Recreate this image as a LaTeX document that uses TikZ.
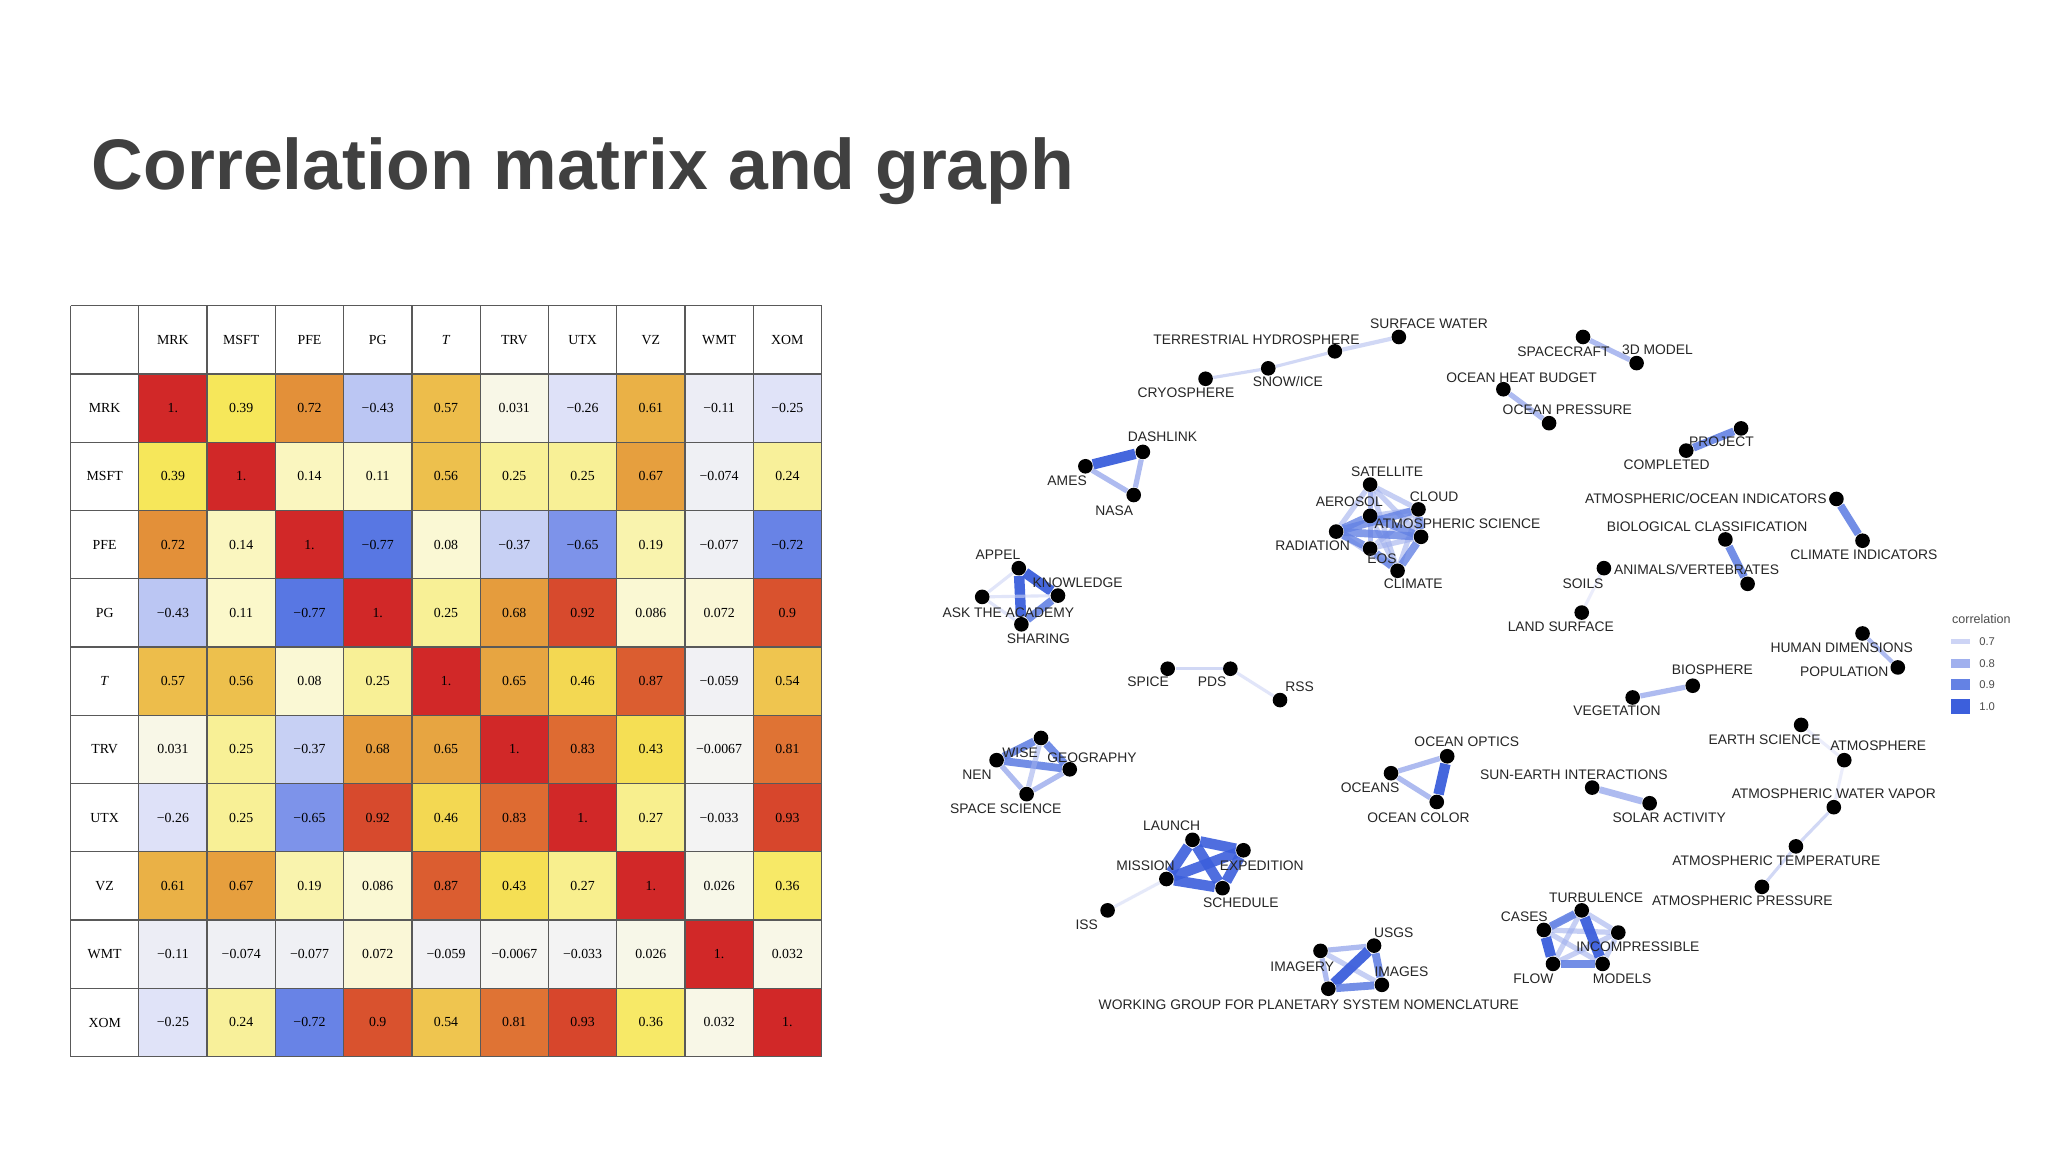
\documentclass[tikz,border=0pt]{standalone}
\usepackage{fontspec}
\setmainfont{Liberation Sans}
\newfontfamily\mserif{Liberation Serif}
\usetikzlibrary{backgrounds}
\definecolor{k10}{RGB}{209,40,40}
\definecolor{k9}{RGB}{217,82,46}
\definecolor{k8}{RGB}{224,118,52}
\definecolor{k7}{RGB}{228,150,58}
\definecolor{k55}{RGB}{238,195,78}
\definecolor{k4}{RGB}{246,230,85}
\definecolor{k25}{RGB}{248,240,150}
\definecolor{k1}{RGB}{251,248,205}
\definecolor{k0}{RGB}{246,246,242}
\definecolor{km25}{RGB}{224,227,248}
\definecolor{km45}{RGB}{183,195,242}
\definecolor{km65}{RGB}{125,147,234}
\definecolor{km8}{RGB}{80,112,226}
\definecolor{ec7}{RGB}{205,212,245}
\definecolor{ec8}{RGB}{160,176,238}
\definecolor{ec9}{RGB}{100,130,228}
\definecolor{ec10}{RGB}{60,95,220}
\definecolor{titlegray}{RGB}{64,64,64}
\newcommand\mixc[4]{\pgfmathtruncatemacro\pp{max(0,min(100,100*(\cv-(#1))/((#2)-(#1))))}\colorlet{cc}{#4!\pp!#3}}
\newcommand\mcol[1]{%
 \pgfmathsetmacro\cv{#1}%
 \ifdim\cv pt>0.9pt \mixc{0.9}{1.0}{k9}{k10}\else
 \ifdim\cv pt>0.8pt \mixc{0.8}{0.9}{k8}{k9}\else
 \ifdim\cv pt>0.7pt \mixc{0.7}{0.8}{k7}{k8}\else
 \ifdim\cv pt>0.55pt \mixc{0.55}{0.7}{k55}{k7}\else
 \ifdim\cv pt>0.4pt \mixc{0.4}{0.55}{k4}{k55}\else
 \ifdim\cv pt>0.25pt \mixc{0.25}{0.4}{k25}{k4}\else
 \ifdim\cv pt>0.1pt \mixc{0.1}{0.25}{k1}{k25}\else
 \ifdim\cv pt>0pt \mixc{0}{0.1}{k0}{k1}\else
 \ifdim\cv pt>-0.25pt \mixc{-0.25}{0}{km25}{k0}\else
 \ifdim\cv pt>-0.45pt \mixc{-0.45}{-0.25}{km45}{km25}\else
 \ifdim\cv pt>-0.65pt \mixc{-0.65}{-0.45}{km65}{km45}\else
 \mixc{-0.8}{-0.65}{km8}{km65}\fi\fi\fi\fi\fi\fi\fi\fi\fi\fi\fi}
\def\fmtx#1#2\relax{\if-#1−#2\else#1#2\fi}
\tikzset{
 mtext/.style={font=\mserif\fontsize{5.3}{6}\selectfont, inner sep=0pt},
 lbl/.style={font=\fontsize{5.3}{6}\selectfont, text=black!85, inner sep=0pt},
 dot/.style={circle, fill=black, minimum size=5.6pt, inner sep=0pt},
 e7/.style={draw=ec7, line width=1.2pt, opacity=0.9},
 e8/.style={draw=ec8, line width=2pt, opacity=0.85},
 e9/.style={draw=ec9, line width=3pt, opacity=0.9},
 e10/.style={draw=ec10, line width=4pt, opacity=0.95},
 legtext/.style={font=\fontsize{4.3}{5}\selectfont, text=black!70, inner sep=0pt},
}
\begin{document}
\begin{tikzpicture}[x=0.5pt,y=-0.5pt]
\begin{pgfonlayer}{background}
\fill[white] (0,0) rectangle (1568,882);
\end{pgfonlayer}
\useasboundingbox (0,0) rectangle (1568,882);
\node[anchor=base west, font=\bfseries\fontsize{27.4}{30}\selectfont, text=titlegray, inner sep=0pt] (title) at (70,145) {Correlation matrix and graph};
% matrix
\def\mx{54}\def\my{234}\def\cs{52.27}
\foreach \row [count=\i] in {
 {1,0.39,0.72,-0.43,0.57,0.031,-0.26,0.61,-0.11,-0.25},
 {0.39,1,0.14,0.11,0.56,0.25,0.25,0.67,-0.074,0.24},
 {0.72,0.14,1,-0.77,0.08,-0.37,-0.65,0.19,-0.077,-0.72},
 {-0.43,0.11,-0.77,1,0.25,0.68,0.92,0.086,0.072,0.9},
 {0.57,0.56,0.08,0.25,1,0.65,0.46,0.87,-0.059,0.54},
 {0.031,0.25,-0.37,0.68,0.65,1,0.83,0.43,-0.0067,0.81},
 {-0.26,0.25,-0.65,0.92,0.46,0.83,1,0.27,-0.033,0.93},
 {0.61,0.67,0.19,0.086,0.87,0.43,0.27,1,0.026,0.36},
 {-0.11,-0.074,-0.077,0.072,-0.059,-0.0067,-0.033,0.026,1,0.032},
 {-0.25,0.24,-0.72,0.9,0.54,0.81,0.93,0.36,0.032,1}}{
 \foreach \val [count=\j] in \row {
  \mcol{\val}
  \fill[cc] ({\mx+\cs*\j},{\my+\cs*\i}) rectangle ({\mx+\cs*(\j+1)},{\my+\cs*(\i+1)});
  \node[mtext] (c-\i-\j) at ({\mx+\cs*(\j+0.5)},{\my+\cs*(\i+0.5)}) {\ifnum\i=\j\relax 1.\else\expandafter\fmtx\val\relax\fi};
 }
}
\foreach \lab [count=\k] in {MRK,MSFT,PFE,PG,\textit{T},TRV,UTX,VZ,WMT,XOM}{
 \node[mtext] (h-\k) at ({\mx+\cs*(\k+0.5)},{\my+\cs*0.5}) {\lab};
 \node[mtext] (r-\k) at ({\mx+\cs*0.5},{\my+\cs*(\k+0.5)}) {\lab};
}
\foreach \k in {0,...,11}{
 \draw[black!65, line width=0.5pt] ({\mx+\cs*\k},\my) -- ({\mx+\cs*\k},{\my+\cs*11});
 \draw[black!65, line width=0.5pt] (\mx,{\my+\cs*\k}) -- ({\mx+\cs*11},{\my+\cs*\k});
}
% graph dots
\foreach \n/\x/\y in {
 cryo/923/290, snow/971/282, terr/1022/269, surf/1071/258,
 dash/875/346, ames/831/357, nasa/868/379,
 sat/1049/371, cloud/1086/390, aer/1049/395, atm/1088/411, rad/1023/407, eos/1049/420, clim/1070/437,
 appel/780/435, know/810/456, ask/752/457, shar/782/478,
 space/1212/258, tdm/1253/278, ohb/1151/298, opr/1186/324,
 proj/1333/328, comp/1291/345, aoi/1406/382, ci/1426/414,
 bio/1321/413, anim/1338/447, soils/1228/435, land/1211/469,
 hum/1426/485, pop/1453/511, biosph/1296/525, veg/1250/534,
 es/1379/555, atmos/1412/582, awv/1404/618, atemp/1375/648, apress/1349/679,
 sun/1219/603, solar/1263/615,
 turb/1211/697, cases/1182/712, incomp/1239/714, flow/1189/738, models/1227/738,
 spice/894/512, pds/942/512, rss/980/536,
 wise/797/565, nen/763/582, geo/819/589, ss/786/608,
 launch/913/643, exped/952/651, mission/893/673, sched/936/680, iss/848/697,
 optics/1108/579, oceans/1065/592, color/1100/614,
 usgs/1052/724, imagery/1011/728, images/1058/754, wg/1017/757}
 {\node[dot] (\n) at (\x,\y) {};}
% edges
\begin{pgfonlayer}{background}
\draw[e7] (cryo)--(snow); \draw[e7] (snow)--(terr); \draw[e7,line width=1.6pt] (terr)--(surf);
\draw[e10] (ames)--(dash); \draw[e8] (ames)--(nasa); \draw[e8] (dash)--(nasa);
\foreach \a/\b in {sat/cloud,sat/aer,sat/atm,sat/rad,sat/eos,sat/clim,cloud/aer,cloud/eos,cloud/clim,aer/eos,aer/clim,atm/eos,rad/clim}
 {\draw[e8,opacity=0.6] (\a)--(\b);}
\foreach \a/\b in {cloud/atm,rad/eos,aer/rad,atm/clim,eos/clim,aer/atm,cloud/rad,rad/atm}
 {\draw[e9,opacity=0.8] (\a)--(\b);}
\draw[e10] (appel)--(know); \draw[e10] (appel)--(shar); \draw[e9] (know)--(shar);
\draw[e7,opacity=0.6] (ask)--(appel); \draw[e7,opacity=0.6] (ask)--(know); \draw[e7,opacity=0.6] (ask)--(shar);
\draw[e8] (space)--(tdm); \draw[e8] (ohb)--(opr);
\draw[e9] (proj)--(comp); \draw[e9] (aoi)--(ci); \draw[e9] (bio)--(anim);
\draw[e7,opacity=0.4] (soils)--(land);
\draw[e8,line width=1.6pt] (hum)--(pop); \draw[e8] (biosph)--(veg);
\draw[e7,opacity=0.4] (es)--(atmos); \draw[e7,opacity=0.4] (atmos)--(awv);
\draw[e7] (awv)--(atemp); \draw[e7] (atemp)--(apress);
\draw[e8,line width=2.6pt] (sun)--(solar);
\foreach \a/\b in {turb/cases,turb/incomp,cases/incomp,cases/models,flow/incomp,turb/flow,incomp/models}
 {\draw[e8,opacity=0.6] (\a)--(\b);}
\draw[e10] (turb)--(models); \draw[e10] (cases)--(flow); \draw[e9] (flow)--(models); \draw[e9] (cases)--(turb);
\draw[e7] (spice)--(pds); \draw[e7,opacity=0.6] (pds)--(rss);
\draw[e9] (nen)--(wise); \draw[e9] (nen)--(geo); \draw[e9] (wise)--(geo);
\draw[e8] (nen)--(ss); \draw[e8] (ss)--(geo); \draw[e8,opacity=0.6] (wise)--(ss);
\foreach \a/\b in {launch/exped,launch/mission,launch/sched,exped/mission,exped/sched,mission/sched}
 {\draw[e10,opacity=0.9] (\a)--(\b);}
\draw[e7,opacity=0.5] (mission)--(iss);
\draw[e8] (oceans)--(optics); \draw[e8] (oceans)--(color); \draw[e10] (optics)--(color);
\draw[e8] (imagery)--(usgs); \draw[e8,opacity=0.6] (imagery)--(images); \draw[e8] (imagery)--(wg);
\draw[e10] (usgs)--(wg); \draw[e9] (usgs)--(images); \draw[e9] (wg)--(images);
\end{pgfonlayer}
% labels
\foreach \n/\x/\y/\t in {
 cryo/908/301/CRYOSPHERE, snow/986/292/{SNOW/ICE}, terr/962/260/TERRESTRIAL HYDROSPHERE, surf/1094/248/SURFACE WATER,
 dash/890/334/DASHLINK, ames/817/368/AMES, nasa/853/391/NASA,
 sat/1062/361/SATELLITE, cloud/1098/380/CLOUD, aer/1033/384/AEROSOL, rad/1005/418/RADIATION, eos/1058/428/EOS, clim/1082/447/CLIMATE,
 appel/764/425/APPEL, know/825/446/KNOWLEDGE, ask/772/469/ASK THE ACADEMY, shar/795/489/SHARING,
 space/1197/269/SPACECRAFT, tdm/1269/268/3D MODEL, ohb/1165/289/OCEAN HEAT BUDGET, opr/1200/314/OCEAN PRESSURE,
 proj/1318/338/PROJECT, comp/1276/356/COMPLETED, aoi/1306/382/{ATMOSPHERIC/OCEAN INDICATORS}, ci/1427/425/CLIMATE INDICATORS,
 bio/1307/403/BIOLOGICAL CLASSIFICATION, anim/1299/436/{ANIMALS/VERTEBRATES}, soils/1212/447/SOILS, land/1195/480/LAND SURFACE,
 hum/1410/496/HUMAN DIMENSIONS, pop/1412/514/POPULATION, biosph/1311/513/BIOSPHERE, veg/1238/544/VEGETATION,
 es/1351/566/EARTH SCIENCE, atmos/1438/571/ATMOSPHERE, awv/1404/608/ATMOSPHERIC WATER VAPOR, atemp/1360/659/ATMOSPHERIC TEMPERATURE, apress/1334/690/ATMOSPHERIC PRESSURE,
 sun/1205/593/SUN-EARTH INTERACTIONS, solar/1278/626/SOLAR ACTIVITY,
 turb/1222/687/TURBULENCE, cases/1167/702/CASES, incomp/1254/725/INCOMPRESSIBLE, flow/1174/749/FLOW, models/1242/749/MODELS,
 spice/879/522/SPICE, pds/928/522/PDS, rss/995/526/RSS,
 wise/781/576/WISE, nen/748/593/NEN, geo/836/580/GEOGRAPHY, ss/770/619/SPACE SCIENCE,
 launch/897/632/LAUNCH, exped/966/663/EXPEDITION, mission/877/663/MISSION, sched/950/691/SCHEDULE, iss/832/708/ISS,
 optics/1123/568/OCEAN OPTICS, oceans/1049/603/OCEANS, color/1086/626/OCEAN COLOR,
 usgs/1067/714/USGS, imagery/997/740/IMAGERY, images/1073/744/IMAGES, wg/1002/769/WORKING GROUP FOR PLANETARY SYSTEM NOMENCLATURE}
 {\node[lbl] (l-\n) at (\x,\y) {\t};}
\node[lbl, anchor=west] (l-atm) at (1052,401) {ATMOSPHERIC SCIENCE};
% legend
\node[legtext, font=\fontsize{4.8}{5}\selectfont] (legt) at (1517,474) {correlation};
\foreach \v/\y/\h/\c [count=\q] in {0.7/491/4/ec7, 0.8/508/7/ec8, 0.9/524/9/ec9, 1.0/541/11/ec10}{
 \fill[\c] (1494,{\y-\h/2}) rectangle (1508,{\y+\h/2});
 \node[legtext, anchor=west] (leg-\q) at (1515,\y) {\v};
}
\end{tikzpicture}
\end{document}
